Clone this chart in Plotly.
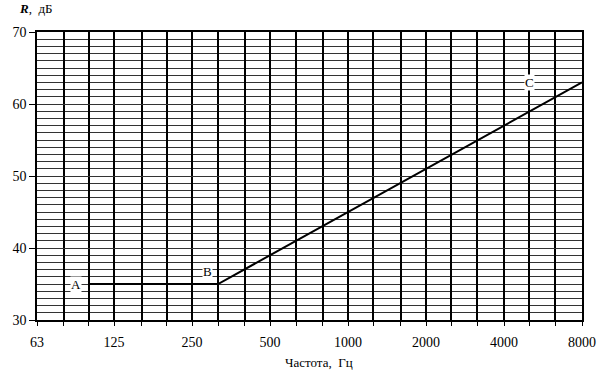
import numpy as np
import plotly.graph_objects as go

# Data
freq = [100, 315, 8000]          # Hz
level = [35, 35, 63]             # dB
point_labels = ["A", "B", "C"]
label_freq = [89, 287, 5030]
label_level = [35, 36.8, 63]

band_freqs = [63, 80, 100, 125, 160, 200, 250, 315, 400, 500, 630, 800,
              1000, 1250, 1600, 2000, 2500, 3150, 4000, 5000, 6300, 8000]
octave_labels = ["63", "125", "250", "500", "1000", "2000", "4000", "8000"]
tick_text = [str(f) if str(f) in octave_labels else "" for f in band_freqs]
y_ticks = [30, 40, 50, 60, 70]

font_family = "Liberation Serif, Times New Roman, serif"

fig = go.Figure()
fig.add_trace(go.Scatter(x=freq, y=level, mode="lines",
                         line=dict(color="black", width=2), showlegend=False,
                         hoverinfo="skip"))

for t, f, l in zip(point_labels, label_freq, label_level):
    fig.add_annotation(x=np.log10(f), y=l, text=t, showarrow=False,
                       bgcolor="white", borderpad=0,
                       font=dict(family=font_family, size=13, color="black"))

fig.update_xaxes(type="log", range=[np.log10(63), np.log10(8000)],
                 tickmode="array", tickvals=band_freqs, ticktext=tick_text,
                 showgrid=True, gridcolor="black", gridwidth=1.5,
                 showline=True, linecolor="black", linewidth=1.5, mirror=True,
                 ticks="outside", ticklen=4, tickcolor="black", tickwidth=1,
                 ticklabelstandoff=4,
                 zeroline=False, automargin=False,
                 tickfont=dict(family=font_family, size=14, color="black"))

fig.update_yaxes(range=[30, 70], tickmode="array", tickvals=y_ticks,
                 showgrid=True, gridcolor="#333333", gridwidth=1,
                 minor=dict(dtick=1, showgrid=True, gridcolor="#333333", gridwidth=1),
                 showline=True, linecolor="black", linewidth=1.5, mirror=True,
                 ticks="outside", ticklen=6, tickcolor="black", tickwidth=1,
                 zeroline=False, automargin=False,
                 tickfont=dict(family=font_family, size=14, color="black"))

fig.add_annotation(xref="paper", yref="paper", x=-0.037, y=1.083,
                   xanchor="left", yanchor="middle", showarrow=False,
                   text="<b><i>R</i></b>,  дБ",
                   font=dict(family=font_family, size=13, color="black"))

fig.add_annotation(xref="paper", yref="paper", x=0.517, y=-0.148,
                   xanchor="center", yanchor="middle", showarrow=False,
                   text="Частота,  Гц",
                   font=dict(family=font_family, size=13, color="black"))

fig.update_layout(width=605, height=375,
                  margin=dict(l=37, r=23, t=32, b=55),
                  paper_bgcolor="white", plot_bgcolor="white")

fig.write_html("out.html", config={"displayModeBar": False},
               post_script="document.body.style.margin='0';"
                           "document.body.style.overflow='hidden';")
